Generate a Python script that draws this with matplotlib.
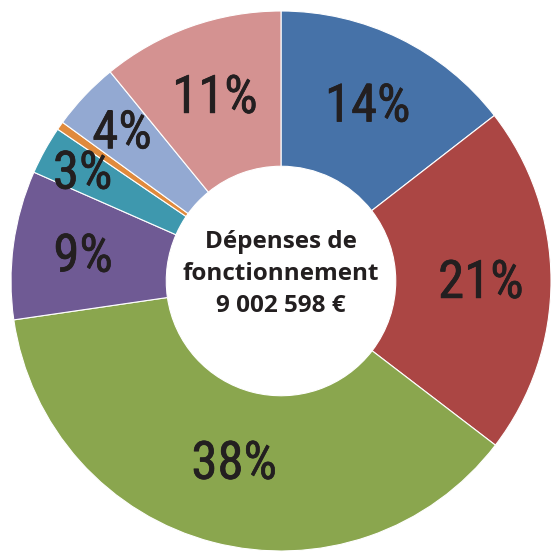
import numpy as np
import matplotlib.pyplot as plt
import matplotlib.patheffects as pe
from matplotlib import font_manager

# parts des dépenses, sens horaire depuis midi
shares = [14.5, 20.9, 37.3, 8.9, 2.9, 0.5, 4.1, 10.9]
labels = ["14%", "21%", "38%", "9%", "3%", "", "4%", "11%"]
colors = ["#4672a8", "#ab4644", "#8aa64e", "#6f5a94",
          "#3e98ae", "#e08a3c", "#93a9d2", "#d49291"]
label_r = [0.73, 0.74, 0.69, 0.74, 0.84, 0.0, 0.81, 0.73]
center_text = "Dépenses de\nfonctionnement\n9 002 598 €"

installed = {f.name for f in font_manager.fontManager.ttflist}
num_font = "Roboto"
for cand in ["Roboto Condensed", "Liberation Sans Narrow"]:
    if cand in installed:
        num_font = cand
        break

W, H = 552, 553
fig = plt.figure(figsize=(W / 100, H / 100), dpi=100)
ax = fig.add_axes([0, 0, 1, 1])

cx, cy, R = 281, 272, 270
wedges, _ = ax.pie(shares, colors=colors, startangle=90, counterclock=False,
                   center=(cx, cy), radius=R, frame=True,
                   wedgeprops=dict(width=R * 0.575, edgecolor="white",
                                   linewidth=0.8))
ax.set_xlim(0, W)
ax.set_ylim(0, H)
ax.set_aspect("equal")
ax.axis("off")

# un léger contour pour épaissir le texte (graisse "medium")
thick = [pe.withStroke(linewidth=0.5, foreground="#231f20")]
for w, lab, fr in zip(wedges, labels, label_r):
    if not lab:
        continue
    ang = np.deg2rad((w.theta1 + w.theta2) / 2)
    ax.text(cx + fr * R * np.cos(ang), cy + fr * R * np.sin(ang) - 3, lab,
            ha="center", va="center", fontsize=38, color="#231f20",
            family=num_font, fontweight="normal", path_effects=thick)

ax.text(cx, cy + 7, center_text, ha="center", va="center", fontsize=17.5,
        fontweight="bold", color="#231f20", family="Open Sans",
        linespacing=1.45)

fig.savefig("out.png", dpi=100)
